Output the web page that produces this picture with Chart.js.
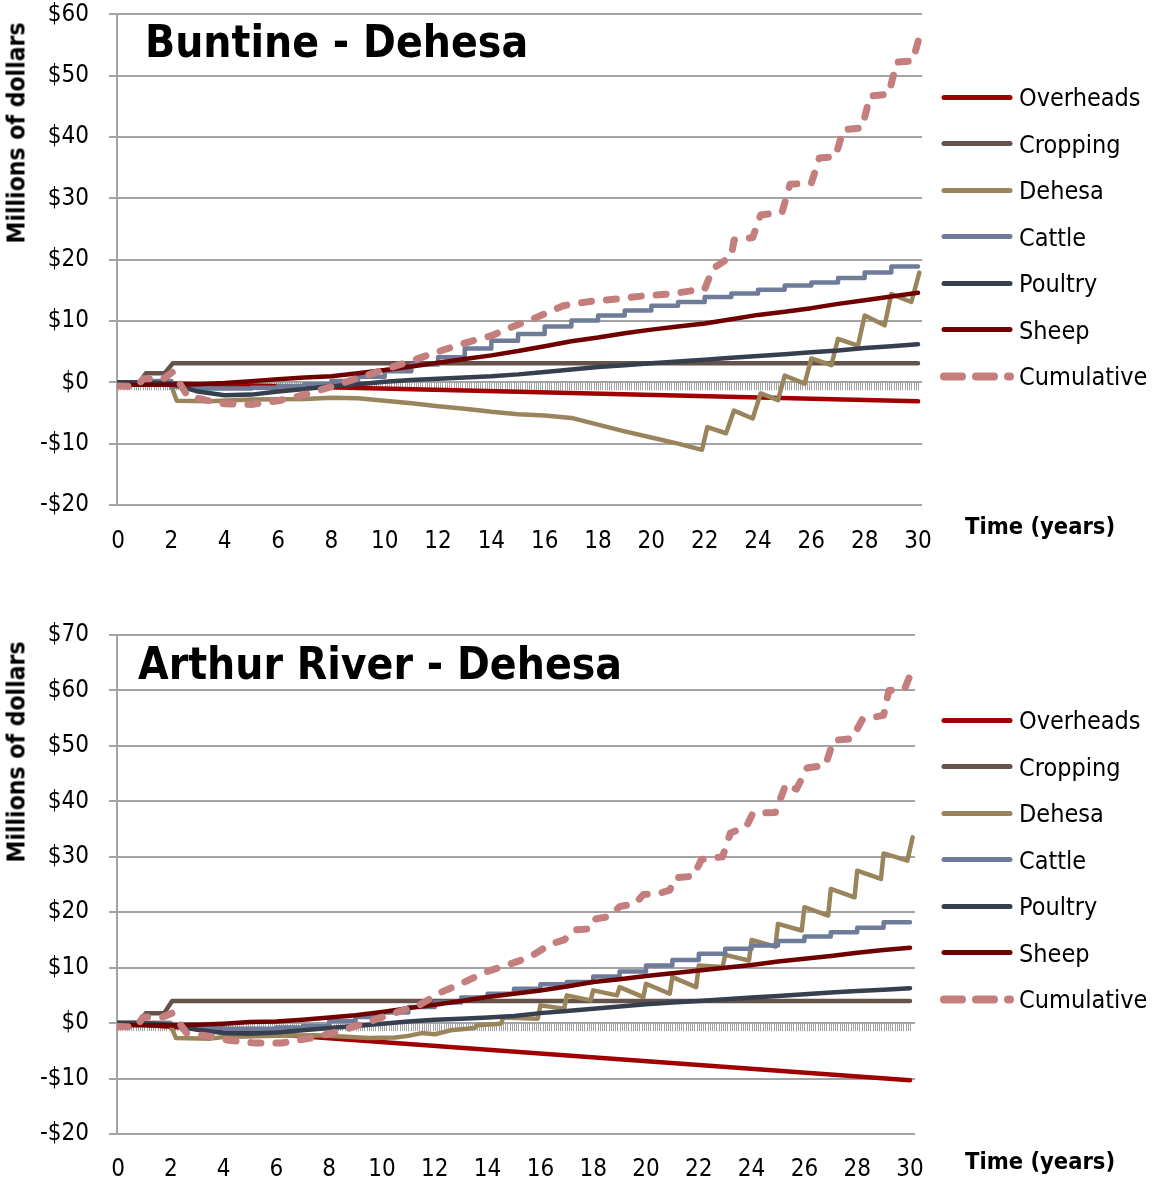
<!DOCTYPE html>
<html>
<head>
<meta charset="utf-8">
<script src="https://cdn.jsdelivr.net/npm/chart.js@4.4.1/dist/chart.umd.min.js"></script>
<style>
  body { margin: 0; background: #fff; }
  #page { position: relative; width: 1153px; height: 1180px; overflow: hidden;
          font-family: "DejaVu Sans Condensed", "DejaVu Sans", sans-serif; color: #000; }
  .panel { position: absolute; left: 0; width: 1153px; }
  .titulo { position: absolute; font-weight: bold; font-size: 44px; line-height: 1; white-space: nowrap; }
  .ytitle { position: absolute; font-weight: bold; font-size: 24.5px; white-space: nowrap;
            transform: translate(-50%, -50%) rotate(-90deg); }
  .xtitle { position: absolute; font-weight: bold; font-size: 23.5px; white-space: nowrap; transform: translateY(-50%); }
  .leg-item { position: absolute; left: 940px; display: flex; align-items: center;
              transform: translateY(-50%); font-size: 25px; white-space: nowrap; }
  .leg-item svg { margin-right: 5px; }
</style>
</head>
<body>
<div id="page">
  <div class="panel" style="top:-20px;height:590px;"><canvas id="chartBuntine"></canvas></div>
  <div class="panel" style="top:590px;height:590px;"><canvas id="chartArthur"></canvas></div>

  <div class="titulo" style="left:145px;top:20px;">Buntine - Dehesa</div>
  <div class="titulo" style="left:138px;top:642px;">Arthur River - Dehesa</div>
  <div class="ytitle" style="left:16px;top:133px;">Millions of dollars</div>
  <div class="ytitle" style="left:16px;top:752px;">Millions of dollars</div>
  <div class="xtitle" style="left:965px;top:526px;">Time (years)</div>
  <div class="xtitle" style="left:965px;top:1161px;">Time (years)</div>

  <div id="legendBuntine"></div>
  <div id="legendArthur"></div>
</div>

<script>
// ── Data: shared axes ─────────────────────────────────
const years = [0, 1, 2, 3, 4, 5, 6, 7, 8, 9, 10, 11, 12, 13, 14, 15, 16, 17, 18, 19, 20, 21, 22, 23, 24, 25, 26, 27, 28, 29, 30];
const xTicks = [0, 2, 4, 6, 8, 10, 12, 14, 16, 18, 20, 22, 24, 26, 28, 30];
const yTicksBuntine = [-20, -10, 0, 10, 20, 30, 40, 50, 60];
const yTicksArthur = [-20, -10, 0, 10, 20, 30, 40, 50, 60, 70];
const seriesNames = ['Overheads', 'Cropping', 'Dehesa', 'Cattle', 'Poultry', 'Sheep', 'Cumulative'];

// ── Data: Buntine ─────────────────────────────────────
const buntineOverheadsT = [0, 30];
const buntineOverheadsV = [0, -3.1];
const buntineCroppingT = [0, 0.8, 1.05, 1.75, 2.05, 30];
const buntineCroppingV = [0, 0, 1.5, 1.5, 3.1, 3.1];
const buntineDehesaT = [0, 1.95, 2.2, 3.4, 5, 7, 8, 9, 10, 11, 12, 13, 14, 15, 16, 17, 18, 19, 20, 21,
  21.9, 22.1, 22.8, 23.1, 23.8, 24.1, 24.75, 25.0, 25.75, 26.0, 26.75, 27.0, 27.75, 28.0, 28.75, 29.0, 29.75, 30.05];
const buntineDehesaV = [0, 0, -3.0, -3.1, -2.8, -2.7, -2.5, -2.6, -3.0, -3.4, -3.9, -4.3, -4.8, -5.2, -5.4, -5.8, -6.9, -8.0, -9.0, -10.0,
  -11.0, -7.3, -8.3, -4.6, -5.9, -1.8, -2.9, 1.1, -0.2, 3.9, 2.8, 7.1, 6.0, 10.9, 9.3, 14.4, 13.1, 17.9];
const buntineCattle = [0, 0, 0.2, -0.7, -1.0, -1.0, -0.9, -0.6, -0.3, 0.2, 0.9, 1.8, 2.9, 4.1, 5.5, 6.8,
  7.9, 9.1, 10.1, 10.9, 11.7, 12.5, 13.1, 13.9, 14.5, 15.1, 15.8, 16.3, 17.0, 17.9, 18.9];
const buntinePoultry = [0, 0, -0.2, -1.5, -2.1, -2.0, -1.5, -1.1, -0.6, -0.3, 0.1, 0.4, 0.6, 0.8, 1.0, 1.3,
  1.7, 2.1, 2.5, 2.8, 3.1, 3.4, 3.7, 4.0, 4.3, 4.6, 4.9, 5.2, 5.6, 5.9, 6.2];
const buntineSheep = [-0.4, -0.4, -0.4, -0.3, -0.1, 0.2, 0.5, 0.8, 1.0, 1.5, 2.0, 2.6, 3.2, 3.8, 4.4, 5.1,
  5.9, 6.7, 7.3, 8.0, 8.6, 9.1, 9.6, 10.3, 11.0, 11.5, 12.1, 12.8, 13.4, 14.0, 14.6];
const buntineCumulativeT = [0, 0.7, 0.95, 1.7, 2.05, 2.6, 3.3, 4.0, 5.0, 6.0, 7, 8, 9, 10, 11, 12, 13, 14,
  14.7, 15.7, 16.7, 17.7, 18.7, 19.7, 20.7, 21.6, 22.0, 22.3, 23.0, 23.1, 23.8, 24.1, 24.9, 25.2, 26.0, 26.3,
  26.9, 27.2, 27.9, 28.2, 28.9, 29.2, 29.8, 30.05];
const buntineCumulativeV = [-0.6, -0.7, 0.6, 0.6, 1.7, -2.2, -2.9, -3.5, -3.6, -3.0, -2.0, -0.7, 0.7, 2.1, 3.5, 5.0, 6.4, 7.6,
  8.9, 10.6, 12.5, 13.2, 13.6, 14.1, 14.4, 15.0, 15.2, 18.5, 20.6, 23.2, 23.6, 27.3, 27.7, 32.3, 32.5, 36.6,
  36.8, 41.2, 41.5, 46.7, 47.0, 52.2, 52.4, 56.3];

// ── Data: Arthur River ────────────────────────────────
const arthurOverheadsT = [0, 30];
const arthurOverheadsV = [0, -10.3];
const arthurCroppingT = [0, 0.8, 1.05, 1.75, 2.05, 30];
const arthurCroppingV = [0, 0, 1.8, 1.8, 4.0, 4.0];
const arthurDehesaT = [0, 1.95, 2.2, 3.5, 4, 6, 7.5, 8.5, 9.5, 10.5, 11, 11.5, 12, 12.6, 13.5, 13.6, 14.5, 14.6, 15.9, 16.0,
  16.9, 17.0, 17.9, 18.0, 18.9, 19.0, 19.9, 20.0, 20.9, 21.0, 21.9, 22.0, 22.9, 23.0, 23.9, 24.0, 24.9, 25.0, 25.9, 26.0,
  26.9, 27.0, 27.9, 28.0, 28.9, 29.0, 29.9, 30.1];
const arthurDehesaV = [0, 0, -2.7, -2.8, -2.5, -2.3, -2.2, -2.4, -2.7, -2.6, -2.3, -1.8, -2.0, -1.3, -0.9, -0.4, -0.1, 1.0, 0.8, 3.2,
  2.6, 5.0, 4.1, 5.9, 5.0, 6.5, 4.7, 7.1, 5.3, 8.3, 6.5, 10.4, 10.1, 12.3, 11.3, 15.0, 13.8, 17.9, 16.7, 20.9,
  19.4, 24.2, 22.7, 27.5, 26.0, 30.6, 29.3, 33.5];
const arthurCattle = [0, 0, 0, -0.3, -0.9, -1.0, -1.0, -0.8, -0.5, 0.4, 1.1, 1.9, 2.9, 3.7, 4.6, 5.3,
  6.2, 7.0, 7.4, 8.4, 9.3, 10.4, 11.4, 12.5, 13.4, 14.0, 14.8, 15.6, 16.4, 17.2, 18.2];
const arthurPoultry = [0, 0, -0.3, -1.2, -1.8, -1.9, -1.7, -1.3, -0.9, -0.5, -0.1, 0.3, 0.6, 0.8, 1.0, 1.3,
  1.8, 2.2, 2.6, 3.0, 3.4, 3.7, 4.0, 4.3, 4.6, 4.9, 5.2, 5.5, 5.8, 6.0, 6.3];
const arthurSheep = [-0.4, -0.4, -0.4, -0.3, -0.1, 0.2, 0.3, 0.6, 1.0, 1.4, 2.0, 2.7, 3.3, 4.0, 4.7, 5.3,
  5.9, 6.6, 7.4, 7.9, 8.5, 9.0, 9.5, 10.0, 10.5, 11.1, 11.6, 12.1, 12.7, 13.2, 13.6];
const arthurCumulativeT = [0, 0.7, 0.95, 1.7, 2.05, 2.6, 3.5, 4.2, 5.2, 6.2, 7.3, 8.3, 9.3, 10.4, 11.4, 12.2, 13.0, 13.9, 14.7, 15.6,
  16.4, 16.9, 17.3, 17.9, 18.1, 18.6, 19.0, 19.6, 19.9, 20.5, 20.9, 21.1, 21.8, 22.1, 22.9, 23.2, 23.8, 24.05, 24.9, 25.3,
  25.7, 26.1, 26.8, 27.1, 27.8, 28.2, 29.0, 29.2, 29.8, 30.1];
const arthurCumulativeV = [-0.6, -0.7, 1.1, 1.1, 1.8, -1.8, -2.4, -3.1, -3.6, -3.6, -2.7, -1.6, -0.1, 1.7, 3.2, 5.5, 7.1, 9.2, 10.4, 11.9,
  14.3, 15.0, 16.8, 17.0, 18.8, 19.2, 21.0, 21.6, 23.2, 23.4, 24.0, 26.2, 26.5, 29.5, 30.0, 34.3, 35.4, 37.9, 38.0, 43.1,
  42.2, 46.0, 46.5, 51.0, 51.3, 54.8, 55.5, 60.0, 60.3, 63.9];

// ── Styles ────────────────────────────────────────────
const colores = {
  Overheads: '#a00000', Cropping: '#65524a', Dehesa: '#9a845c', Cattle: '#6e7b99',
  Poultry: '#353f4d', Sheep: '#700000', Cumulative: '#c47e7e'
};
const FONT = '"DejaVu Sans Condensed", "DejaVu Sans", sans-serif';
const GRIS = '#a3a3a3';

const pares = (ts, vs) => ts.map((t, i) => ({ x: t, y: vs[i] }));

function serie(nombre, data, extra = {}) {
  const idx = seriesNames.indexOf(nombre);
  return Object.assign({
    label: nombre, data,
    borderColor: colores[nombre], backgroundColor: colores[nombre],
    borderWidth: 4.5, pointRadius: 0, tension: 0,
    borderCapStyle: 'round', borderJoinStyle: 'round',
    order: seriesNames.length - idx
  }, extra);
}

// ── Monthly tick marks on the x axis (crosses at $0) ──
const ejeMensual = {
  id: 'ejeMensual',
  beforeDatasetsDraw(chart) {
    const { ctx, scales: { x, y } } = chart;
    const y0 = y.getPixelForValue(0);
    ctx.save();
    ctx.strokeStyle = GRIS;
    ctx.lineWidth = 1;
    ctx.beginPath();
    for (let m = 0; m <= 360; m++) {
      const px = Math.round(x.getPixelForValue(m / 12)) + 0.5;
      ctx.moveTo(px, y0);
      ctx.lineTo(px, y0 + 8);
    }
    ctx.stroke();
    ctx.restore();
  }
};

function buildChart(id, p) {
  return new Chart(document.getElementById(id), {
    type: 'line',
    data: {
      datasets: [
        serie('Overheads', pares(p.overheadsT, p.overheadsV)),
        serie('Cropping', pares(p.croppingT, p.croppingV)),
        serie('Dehesa', pares(p.dehesaT, p.dehesaV)),
        serie('Cattle', pares(years, p.cattle), { stepped: 'after' }),
        serie('Poultry', pares(years, p.poultry)),
        serie('Sheep', pares(years, p.sheep)),
        serie('Cumulative', pares(p.cumulativeT, p.cumulativeV), { borderWidth: 7, borderDash: [10, 15] })
      ]
    },
    options: {
      responsive: true, maintainAspectRatio: false, animation: false,
      layout: { padding: { top: p.padTop, right: p.padRight, left: 0, bottom: 0 } },
      plugins: { legend: { display: false }, tooltip: { enabled: false } },
      scales: {
        x: {
          type: 'linear', min: p.xMin, max: p.xMax,
          afterBuildTicks: s => { s.ticks = xTicks.map(v => ({ value: v })); },
          afterFit: s => { s.height = p.xHeight; },
          grid: { display: false, drawTicks: false },
          border: { display: false },
          ticks: { padding: p.xPad, autoSkip: false, maxRotation: 0, color: '#000', font: { family: FONT, size: 24 } }
        },
        y: {
          min: p.yTicks[0], max: p.yTicks[p.yTicks.length - 1],
          afterBuildTicks: s => { s.ticks = p.yTicks.map(v => ({ value: v })); },
          afterFit: s => { s.width = 117; },
          grid: { color: GRIS, lineWidth: 2, tickLength: 8 },
          border: { color: GRIS, width: 2 },
          ticks: {
            padding: 20, color: '#000', font: { family: FONT, size: 24 },
            callback: v => (v < 0 ? '-$' : '$') + Math.abs(v)
          }
        }
      }
    },
    plugins: [ejeMensual]
  });
}

// ── HTML legend ───────────────────────────────────────
function buildLegend(id, yInicio) {
  document.getElementById(id).innerHTML = seriesNames.map((n, i) => {
    const dash = n === 'Cumulative' ? 'stroke-dasharray="18 14" stroke-width="8"' : 'stroke-width="5"';
    return `
    <div class="leg-item" style="top:${yInicio + i * 46.5}px;">
      <svg width="74" height="12"><line x1="4" y1="6" x2="70" y2="6" stroke="${colores[n]}" ${dash} stroke-linecap="round"/></svg>
      <span>${n}</span>
    </div>`;
  }).join('');
}

buildChart('chartBuntine', {
  overheadsT: buntineOverheadsT, overheadsV: buntineOverheadsV,
  croppingT: buntineCroppingT, croppingV: buntineCroppingV,
  dehesaT: buntineDehesaT, dehesaV: buntineDehesaV,
  cattle: buntineCattle, poultry: buntinePoultry, sheep: buntineSheep,
  cumulativeT: buntineCumulativeT, cumulativeV: buntineCumulativeV,
  yTicks: yTicksBuntine, xMin: -0.04, xMax: 30.15,
  padTop: 13, padRight: 231, xHeight: 65, xPad: 22
});

buildChart('chartArthur', {
  overheadsT: arthurOverheadsT, overheadsV: arthurOverheadsV,
  croppingT: arthurCroppingT, croppingV: arthurCroppingV,
  dehesaT: arthurDehesaT, dehesaV: arthurDehesaV,
  cattle: arthurCattle, poultry: arthurPoultry, sheep: arthurSheep,
  cumulativeT: arthurCumulativeT, cumulativeV: arthurCumulativeV,
  yTicks: yTicksArthur, xMin: -0.038, xMax: 30.19,
  padTop: 45, padRight: 238, xHeight: 46, xPad: 21
});

buildLegend('legendBuntine', 97);
buildLegend('legendArthur', 720);
</script>
</body>
</html>
